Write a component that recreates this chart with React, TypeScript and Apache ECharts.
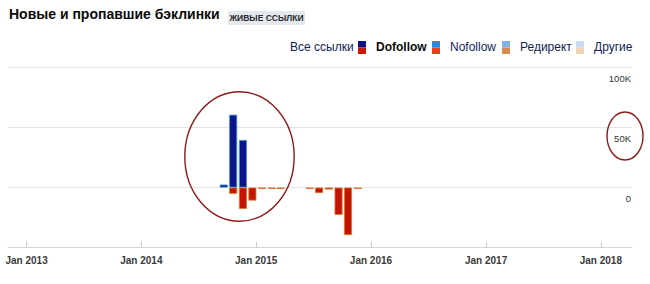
import React, { useEffect, useRef } from "react";
import * as echarts from "echarts";

const months = [
  "2014-09", "2014-10", "2014-11", "2014-12", "2015-01", "2015-02", "2015-03",
  "2015-04", "2015-05", "2015-06", "2015-07", "2015-08", "2015-09", "2015-10", "2015-11",
];
const newLinks: (number | null)[] = [
  2500, 60600, 39600, null, null, null, null,
  null, null, null, null, null, null, null, null,
];
const lostLinks: (number | null)[] = [
  null, -5200, -17700, -10800, -1200, -1200, -1200,
  null, null, -1200, -4600, -1600, -22700, -39500, -1200,
];
const yearTicks = ["2013-01-01", "2014-01-01", "2015-01-01", "2016-01-01", "2017-01-01", "2018-01-01"];
const legendItems = [
  { name: "Dofollow", top: "#0b1284", bottom: "#cc1600", bold: true },
  { name: "Nofollow", top: "#2c88da", bottom: "#e0461a", bold: false },
  { name: "Редирект", top: "#7fb2e2", bottom: "#d98b4e", bold: false },
  { name: "Другие", top: "#cadcf0", bottom: "#f2d2b4", bold: false },
];
const legendX = [358, 432, 502, 576];

const FONT = "'Liberation Sans', Arial, sans-serif";

export default function App() {
  const ref = useRef<HTMLDivElement>(null);
  useEffect(() => {
    if (!ref.current) return;
    const chart = echarts.init(ref.current, undefined, { renderer: "svg" });
    const ts = (s: string) => new Date(s + "T00:00:00Z").getTime();
    const dataNew = months.map((m, i) => [ts(m + "-20"), newLinks[i]]);
    const dataLost = months.map((m, i) => [ts(m + "-20"), lostLinks[i]]);
    const tickVals = yearTicks.map(ts);

    const graphics: any[] = [
      {
        type: "text", x: 9, y: 14,
        style: { text: "Новые и пропавшие бэклинки", fontSize: 14, fontWeight: "bold", fontFamily: FONT, fill: "#0a0a0a", align: "left", verticalAlign: "middle" },
      },
      { type: "rect", shape: { x: 228, y: 11, width: 77, height: 14 }, style: { fill: "#e3e8ef" } },
      {
        type: "text", x: 266.5, y: 17.5,
        style: { text: "ЖИВЫЕ ССЫЛКИ", fontSize: 8.5, fontWeight: "bold", fontFamily: FONT, fill: "#2a2a2a", align: "center", verticalAlign: "middle" },
      },
      {
        type: "text", x: 290, y: 47,
        style: { text: "Все ссылки", fontSize: 12, fontFamily: FONT, fill: "#141d55", align: "left", verticalAlign: "middle" },
      },
      {
        type: "ellipse", shape: { cx: 239.5, cy: 156.5, rx: 54.7, ry: 64.7 },
        style: { fill: "none", stroke: "#8e1b1b", lineWidth: 1.4 }, z: 100,
      },
      {
        type: "ellipse", shape: { cx: 625, cy: 136, rx: 18, ry: 24 },
        style: { fill: "none", stroke: "#8e1b1b", lineWidth: 1.4 }, z: 100,
      },
    ];
    legendItems.forEach((it, i) => {
      const x = legendX[i];
      graphics.push({ type: "rect", shape: { x, y: 41, width: 8, height: 6.5 }, style: { fill: it.top } });
      graphics.push({ type: "rect", shape: { x, y: 47.5, width: 8, height: 6.5 }, style: { fill: it.bottom } });
      graphics.push({
        type: "text", x: x + 18, y: 47,
        style: { text: it.name, fontSize: 12, fontWeight: it.bold ? "bold" : "normal", fontFamily: FONT, fill: it.bold ? "#0a0a0a" : "#141d55", align: "left", verticalAlign: "middle" },
      });
    });

    chart.setOption({
      animation: false,
      textStyle: { fontFamily: FONT },
      grid: { left: 8, right: 18, top: 67.3, bottom: 36.3, containLabel: false },
      xAxis: {
        type: "value",
        min: ts("2012-11-03"),
        max: ts("2018-04-10"),
        axisLine: { onZero: false, lineStyle: { color: "#d6d6d6", width: 1 } },
        axisTick: { show: true, inside: true, length: 6, lineStyle: { color: "#c8c8c8" }, customValues: tickVals },
        axisLabel: {
          customValues: tickVals,
          margin: 8,
          fontSize: 10,
          fontWeight: "bold",
          color: "#3a3a3a",
          formatter: (v: number) => "Jan " + new Date(v).getUTCFullYear(),
        },
        splitLine: { show: false },
      },
      yAxis: {
        type: "value",
        position: "right",
        min: -50000,
        max: 100000,
        interval: 50000,
        axisLine: { show: false },
        axisTick: { show: false },
        axisLabel: {
          inside: true,
          margin: 1,
          fontSize: 9.5,
          color: "#333",
          verticalAlign: "top",
          padding: [6, 0, 0, 0],
          formatter: (v: number) => (v < 0 ? "" : v === 0 ? "0" : v / 1000 + "K"),
        },
        splitLine: { lineStyle: { color: "#e4e4e4", width: 1 } },
      },
      series: [
        {
          type: "bar", name: "new", data: dataNew, barWidth: 8, barGap: "-100%",
          itemStyle: { color: "#0c168a", borderColor: "#3a9cc8", borderWidth: 0.8 },
        },
        {
          type: "bar", name: "lost", data: dataLost, barWidth: 8, barGap: "-100%",
          itemStyle: { color: "#c41504", borderColor: "#d9782a", borderWidth: 0.8 },
        },
      ],
      graphic: graphics,
    });
    return () => chart.dispose();
  }, []);
  return <div ref={ref} style={{ width: 650, height: 284, position: "absolute", left: 0, top: 0 }} />;
}
